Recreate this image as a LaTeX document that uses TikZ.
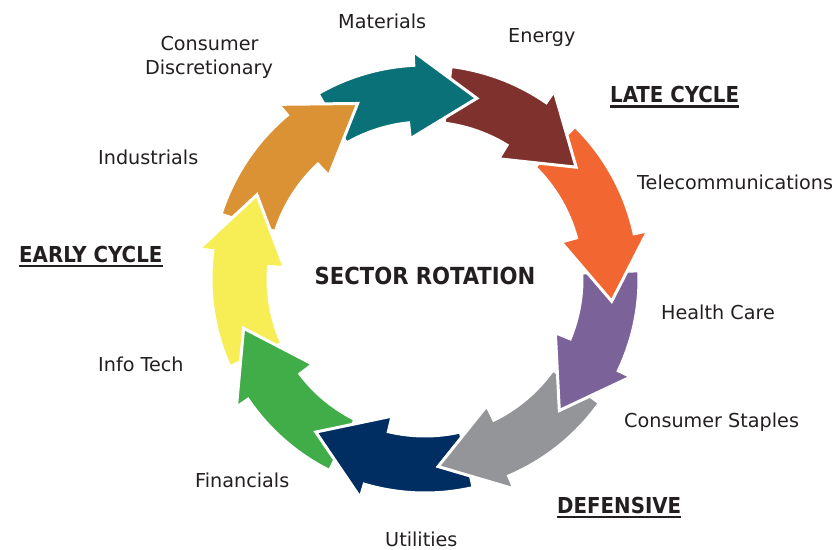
\documentclass[tikz,border=0pt]{standalone}
\usepackage{fontspec}
\setmainfont{DejaVu Sans}
\newfontfamily\condfont{DejaVu Sans Condensed}
\definecolor{cTeal}{HTML}{0A7178}
\definecolor{cMaroon}{HTML}{7F312E}
\definecolor{cOrangeRed}{HTML}{F26631}
\definecolor{cPurple}{HTML}{7B6299}
\definecolor{cGray}{HTML}{939598}
\definecolor{cNavy}{HTML}{002D62}
\definecolor{cGreen}{HTML}{41AD49}
\definecolor{cYellow}{HTML}{F7EE55}
\definecolor{cOrange}{HTML}{DA9235}
\definecolor{cText}{HTML}{231F20}
% #1 colour, #2 tail angle, #3 tip angle
\newcommand{\secarrow}[3]{%
  \pgfmathsetmacro\secOB{#3+19}%
  \pgfmathsetmacro\secIB{#3+22}%
  \filldraw[ringpiece, fill=#1]
    (#2:214pt) arc[start angle=#2, end angle=\secOB, radius=214pt]
    -- (\secOB:228pt) -- (#3:188pt) -- (\secIB:141pt) -- (\secIB:157pt)
    arc[start angle=\secIB, end angle=#2, radius=157pt] -- cycle;}
\tikzset{
  ringpiece/.style={draw=white, line width=3pt, line join=miter},
  lbl/.style={inner sep=0pt, anchor=base west, text=cText, font=\fontsize{19.2}{23}\selectfont},
  hdr/.style={inner sep=0pt, anchor=base west, text=cText, font=\condfont\bfseries\fontsize{22}{26}\selectfont},
  uline/.style={draw=cText, line width=2.2pt},
}
\begin{document}
\begin{tikzpicture}[x=1pt,y=1pt]
\useasboundingbox (0,0) rectangle (840,549);
\begin{scope}[shift={(425,270)}]
  \secarrow{cOrange}{162.4}{111}
  \secarrow{cYellow}{204.2}{153.4}
  \secarrow{cGreen}{243.5}{195.2}
  \secarrow{cNavy}{283}{234.5}
  \secarrow{cGray}{324.6}{274}
  \secarrow{cPurple}{362.2}{315.6}
  \secarrow{cOrangeRed}{45.5}{-6.8}
  \secarrow{cMaroon}{83}{36.5}
  \secarrow{cTeal}{120}{74}
  \begin{scope}
    \clip (0,0) -- (100:320pt) arc[start angle=100, end angle=145, radius=320pt] -- cycle;
    \secarrow{cOrange}{162.4}{111}
  \end{scope}
\end{scope}
% labels
\node[lbl] (materials) at (338,520) {Materials};
\node[lbl] (energy) at (508,506.5) {Energy};
\node[lbl] (telecom) at (637,359) {Telecommunications};
\node[lbl] (health) at (661,229) {Health Care};
\node[lbl] (staples) at (624,121.3) {Consumer Staples};
\node[lbl] (utilities) at (385,3) {Utilities};
\node[lbl] (financials) at (195,61.7) {Financials};
\node[lbl] (infotech) at (98,177.3) {Info Tech};
\node[lbl] (industrials) at (98,384) {Industrials};
\node[lbl, anchor=base] (consumer) at (209.5,498.3) {Consumer};
\node[lbl, anchor=base] (discr) at (209,474) {Discretionary};
% headers
\node[hdr] (late) at (610,446) {LATE CYCLE};
\draw[uline] ([yshift=-3.6pt]late.base west) -- ([yshift=-3.6pt]late.base east);
\node[hdr] (early) at (19,286.3) {EARLY CYCLE};
\draw[uline] ([yshift=-3.6pt]early.base west) -- ([yshift=-3.6pt]early.base east);
\node[hdr] (def) at (557,35.7) {DEFENSIVE};
\draw[uline] ([yshift=-3.6pt]def.base west) -- ([yshift=-3.6pt]def.base east);
% title
\node[inner sep=0pt, anchor=base, text=cText, font=\condfont\bfseries\fontsize{23.5}{28}\selectfont] (title) at (425,264) {SECTOR ROTATION};
\end{tikzpicture}
\end{document}
